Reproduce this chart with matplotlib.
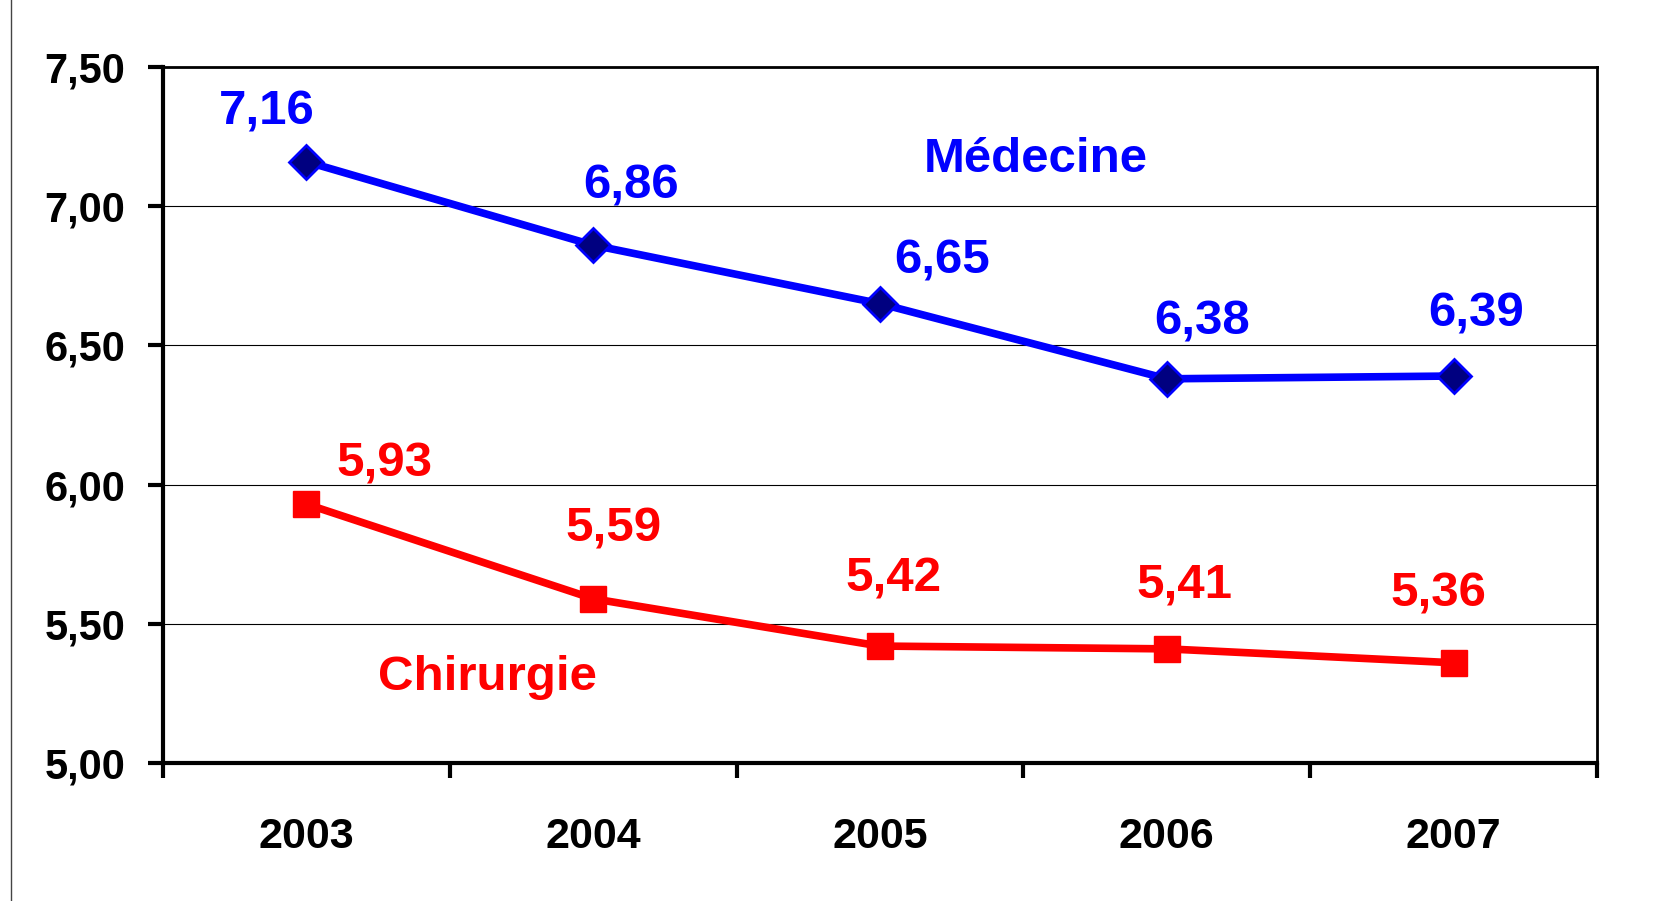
import matplotlib
matplotlib.use("Agg")
import matplotlib.pyplot as plt
from matplotlib.lines import Line2D

plt.rcParams['font.family'] = ['Liberation Sans', 'DejaVu Sans']
plt.rcParams['font.weight'] = 'bold'

# données
annees = ['2003', '2004', '2005', '2006', '2007']
medecine = [7.16, 6.86, 6.65, 6.38, 6.39]
chirurgie = [5.93, 5.59, 5.42, 5.41, 5.36]
y_ticks = [5.00, 5.50, 6.00, 6.50, 7.00, 7.50]

# décalage des étiquettes (pixels)
off_med = [(-40, 50), (38, 59), (62, 43), (35, 57), (23, 62)]
off_chir = [(78, 40), (20, 70), (14, 67), (18, 64), (-15, 69)]

fig = plt.figure(figsize=(16.57, 9.01), dpi=100)
ax = fig.add_axes([163 / 1657, 1 - 763 / 901, 1434 / 1657, 696 / 901])

x = list(range(len(annees)))

ax.plot(x, medecine, color='#0000FF', lw=5.5, marker='D', ms=17,
        mfc='#000080', mec='#0000FF', mew=2, zorder=3)
ax.plot(x, chirurgie, color='#FF0000', lw=5.5, marker='s', ms=19,
        mfc='#FF0000', mec='#FF0000', zorder=3)

for xi, v, off in zip(x, medecine, off_med):
    ax.annotate(f"{v:.2f}".replace('.', ','), (xi, v), xytext=off,
                textcoords='offset pixels', ha='center', va='center',
                color='#0000FF', fontsize=35.5, fontweight='bold')
for xi, v, off in zip(x, chirurgie, off_chir):
    ax.annotate(f"{v:.2f}".replace('.', ','), (xi, v), xytext=off,
                textcoords='offset pixels', ha='center', va='center',
                color='#FF0000', fontsize=35.5, fontweight='bold')

ax.text(2.544, 7.168, 'Médecine', color='#0000FF', fontsize=35.5,
        fontweight='bold', ha='center', va='center')
ax.text(0.63, 5.308, 'Chirurgie', color='#FF0000', fontsize=35.5,
        fontweight='bold', ha='center', va='center')

ax.set_xlim(-0.5, 4.5)
ax.set_ylim(5.0, 7.5)

ax.set_yticks(y_ticks)
ax.set_yticklabels([f"{t:.2f}".replace('.', ',') for t in y_ticks])
ax.yaxis.grid(True, color='black', lw=0.8)
ax.set_axisbelow(True)

# ticks aux limites des catégories, étiquettes au centre
ax.set_xticks([i - 0.5 for i in range(len(annees) + 1)])
ax.set_xticklabels([])
ax.set_xticks(x, minor=True)
ax.set_xticklabels(annees, minor=True)
ax.tick_params(axis='x', which='minor', length=0, pad=39, labelsize=31)
ax.tick_params(axis='x', which='major', length=11, width=3, direction='out')
ax.tick_params(axis='y', length=11, width=3, direction='out', pad=16, labelsize=30)

for s in ['left', 'bottom']:
    ax.spines[s].set_linewidth(3)
for s in ['top', 'right']:
    ax.spines[s].set_linewidth(2)

fig.add_artist(Line2D([11 / 1657, 11 / 1657], [0, 1], transform=fig.transFigure,
                      color='#444444', lw=1))

fig.savefig('out.png', dpi=100)
